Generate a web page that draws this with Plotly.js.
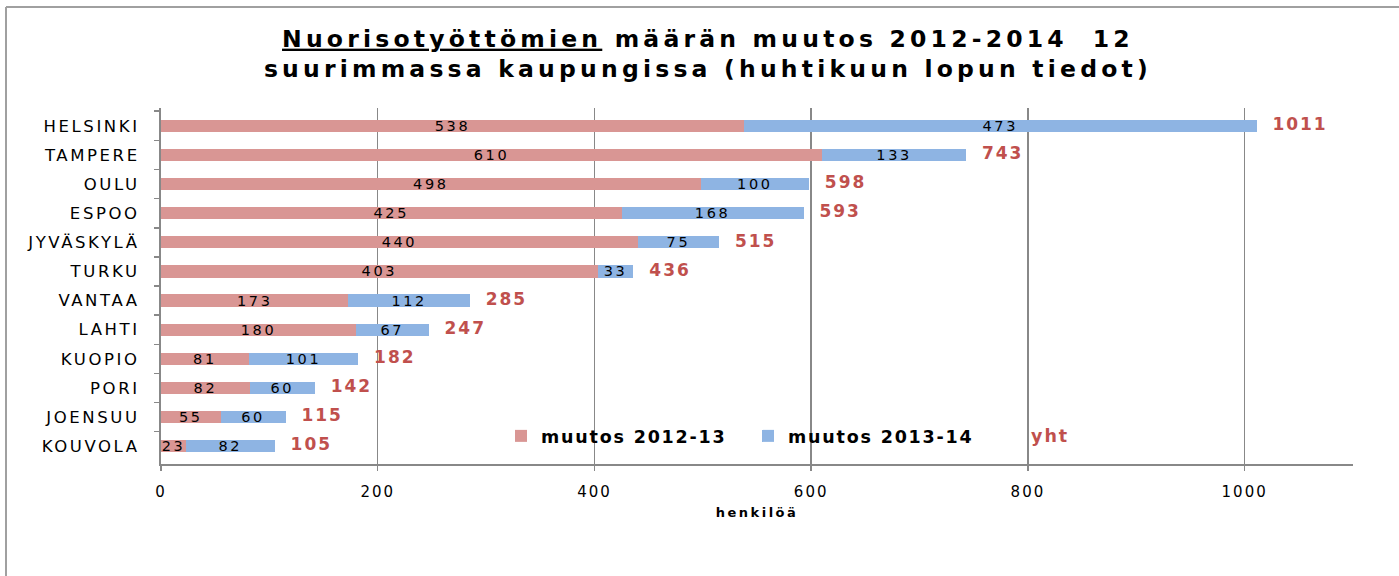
<!DOCTYPE html>
<html>
<head>
<meta charset="utf-8">
<script src="https://cdn.plot.ly/plotly-3.0.1.min.js"></script>
<style>
html,body{margin:0;padding:0;background:#fff;}
#chart{width:1399px;height:576px;}
#chart .gtitle{letter-spacing:4.2px;}
#chart .ytick text{letter-spacing:2.6px;}
#chart .xtick text{letter-spacing:2px;}
#chart text.bartext{letter-spacing:2.6px;}
#chart .textpoint text{letter-spacing:2px;}
#chart .legendtext{letter-spacing:1.8px;}
#chart .annotation-text{letter-spacing:2px;}
#chart .xtitle{letter-spacing:2.5px;}
</style>
</head>
<body>
<div id="chart"></div>
<script>
const cities = ["HELSINKI","TAMPERE","OULU","ESPOO","JYVÄSKYLÄ","TURKU","VANTAA","LAHTI","KUOPIO","PORI","JOENSUU","KOUVOLA"];
const change1213 = [538,610,498,425,440,403,173,180,81,82,55,23];
const change1314 = [473,133,100,168,75,33,112,67,101,60,60,82];
const totals = [1011,743,598,593,515,436,285,247,182,142,115,105];
const xTicks = [0,200,400,600,800,1000];

const L = 161, R = 46, T = 108, B = 112;
const W = 1399, H = 576;
const pw = W - L - R, ph = H - T - B;
const px = v => (v - L) / pw;
const py = v => (H - B - v) / ph;

const labelFont = {family: "DejaVu Sans", size: 14.5, color: "#000"};

const traces = [
  {type: "bar", orientation: "h", name: "muutos 2012-13", y: cities, x: change1213,
   marker: {color: "#D99694", line: {width: 0}}, text: change1213.map(String),
   textposition: "inside", insidetextanchor: "middle", textangle: 0, constraintext: "none",
   textfont: labelFont, hoverinfo: "x+y+name"},
  {type: "bar", orientation: "h", name: "muutos 2013-14", y: cities, x: change1314,
   marker: {color: "#8EB4E3", line: {width: 0}}, text: change1314.map(String),
   textposition: "inside", insidetextanchor: "middle", textangle: 0, constraintext: "none",
   textfont: labelFont, hoverinfo: "x+y+name"},
  {type: "scatter", mode: "text", name: "yht", y: cities, x: totals,
   text: totals.map(v => "  " + v), textposition: "middle right", cliponaxis: false,
   textfont: {family: "DejaVu Sans", size: 17, color: "#C0504D", weight: "bold"},
   showlegend: false, hoverinfo: "x+y"}
];

const layout = {
  width: W, height: H,
  margin: {l: L, r: R, t: T, b: B, pad: 0},
  paper_bgcolor: "#fff", plot_bgcolor: "#fff",
  barmode: "stack", bargap: 0.58,
  showlegend: true,
  title: {
    text: "<u>Nuorisotyöttömien</u> määrän muutos 2012-2014  12<br>suurimmassa kaupungissa (huhtikuun lopun tiedot)",
    font: {family: "DejaVu Sans", size: 23.5, color: "#000", weight: "bold"},
    x: 0.506, xanchor: "center", y: 0.919, yanchor: "middle", yref: "container"
  },
  font: {family: "DejaVu Sans", color: "#000"},
  xaxis: {
    range: [0, 1100], tickvals: xTicks, ticktext: xTicks.map(String),
    showgrid: true, gridcolor: "#888", gridwidth: 1.5,
    showline: true, linecolor: "#888", linewidth: 2,
    ticks: "outside", ticklen: 5, tickcolor: "#888", tickwidth: 1.5,
    tickfont: {family: "DejaVu Sans", size: 15, color: "#000"},
    ticklabelstandoff: 8,
    zeroline: false,
    title: {text: "henkilöä", font: {family: "DejaVu Sans", size: 13, color: "#000", weight: "bold"}, standoff: 8},
    fixedrange: true
  },
  yaxis: {
    type: "category", autorange: "reversed",
    showgrid: false, showline: true, linecolor: "#888", linewidth: 2,
    ticks: "outside", tickson: "boundaries", ticklen: 5, tickcolor: "#888", tickwidth: 1.5,
    tickfont: {family: "DejaVu Sans", size: 16.5, color: "#000"},
    ticklabelstandoff: 16,
    fixedrange: true
  },
  legend: {
    orientation: "h", x: px(501), xanchor: "left", y: py(436), yanchor: "middle",
    bgcolor: "rgba(0,0,0,0)", borderwidth: 0,
    font: {family: "DejaVu Sans", size: 17.5, color: "#000", weight: "bold"},
    entrywidth: 202, itemwidth: 30, traceorder: "normal"
  },
  annotations: [
    {xref: "paper", yref: "paper", x: px(1032), y: py(436), xanchor: "left", yanchor: "middle",
     text: "yht", showarrow: false,
     font: {family: "DejaVu Sans", size: 17.5, color: "#C0504D", weight: "bold"}}
  ],
  shapes: [
    {type: "line", xref: "paper", yref: "paper", x0: px(6), x1: px(6), y0: py(7), y1: py(580), line: {color: "#A0A0A0", width: 2}},
    {type: "line", xref: "paper", yref: "paper", x0: px(6), x1: px(1402), y0: py(7), y1: py(7), line: {color: "#A0A0A0", width: 2}}
  ]
};

Plotly.newPlot("chart", traces, layout, {displayModeBar: false, staticPlot: true});
</script>
</body>
</html>
